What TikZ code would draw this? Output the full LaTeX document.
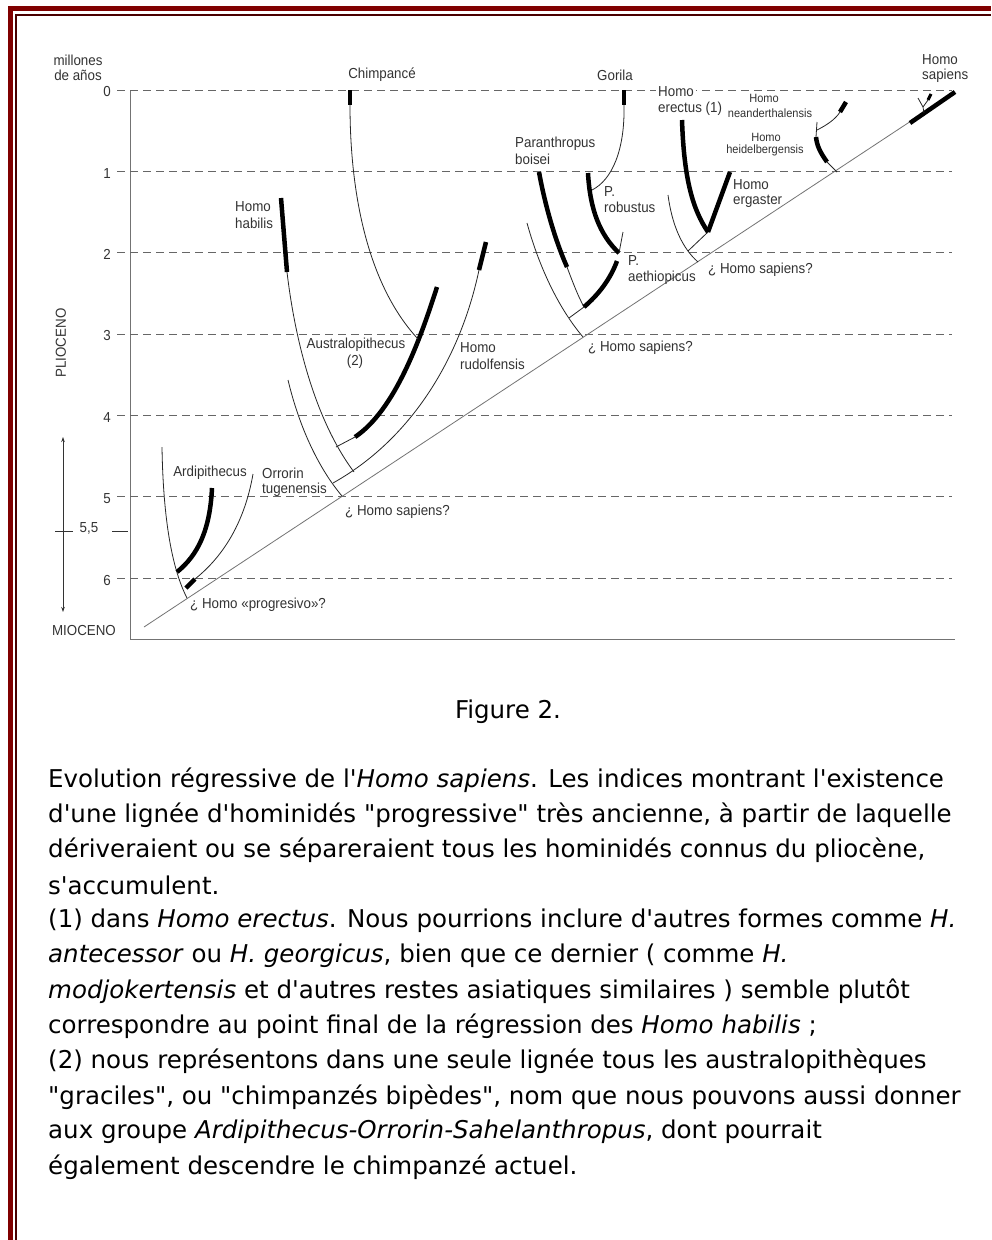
\documentclass[tikz,border=0pt]{standalone}
\usepackage{fontspec}
\setmainfont{DejaVu Sans}[Ligatures=TeXOff]
\newfontfamily\cond[FakeStretch=0.92]{Liberation Sans}
\usetikzlibrary{arrows.meta}
\definecolor{bordred}{HTML}{800000}
\definecolor{borddark}{HTML}{4A0000}
\begin{document}
\begin{tikzpicture}[x=1pt,y=-1pt,
  thinl/.style={line width=0.8pt, draw=black!85},
  thickl/.style={line width=4.5pt, draw=black},
  dashl/.style={line width=0.9pt, draw=black!60, dash pattern=on 8pt off 5pt},
  axisl/.style={line width=1pt, draw=black!55},
  diagl/.style={line width=0.8pt, draw=black!55},
  lbl/.style={font=\cond\fontsize{14.5}{15}\selectfont, text=black!80, inner sep=0pt},
  slbl/.style={font=\cond\fontsize{12}{13}\selectfont, text=black!80, inner sep=0pt},
  captxt/.style={font=\fontsize{24.5}{28}\selectfont, anchor=west, inner sep=0pt}]
\useasboundingbox (0,0) rectangle (991,1240);
\fill[white] (0,0) rectangle (991,1240);
% border
\fill[bordred] (8,6) rectangle (991,11);
\fill[bordred] (8,6) rectangle (13,1240);
\fill[borddark] (15,14) rectangle (991,16);
\fill[borddark] (15,14) rectangle (17,1240);
% axes
\coordinate (ax0) at (130,90);
\coordinate (ax1) at (130,639);
\coordinate (ax2) at (955,639);
\draw[axisl] (ax0) -- (ax1) -- (ax2);
\foreach \i/\y in {0/90,1/171.3,2/252.7,3/334,4/415.3,5/496.7,6/578}{
  \coordinate (gl\i) at (117,\y);
  \coordinate (gr\i) at (952,\y);
  \draw[dashl] (gl\i) -- (gr\i);
  \node[lbl] (n\i) at (107,\y+2) {\i};
}
\node[lbl] (mill) at (78,60) {millones};
\node[lbl] (anos) at (78,75) {de años};
\node[lbl, rotate=90] (plio) at (61,343) {PLIOCENO};
\node[lbl] (mioc) at (84,630) {MIOCENO};
\coordinate (ar0) at (63,437);
\coordinate (ar1) at (63,612);
\draw[line width=0.8pt, black!80, {Stealth[length=5pt,width=3.5pt]}-{Stealth[length=5pt,width=3.5pt]}] (ar0) -- (ar1);
\coordinate (t1a) at (55,531); \coordinate (t1b) at (73,531);
\coordinate (t2a) at (112,531); \coordinate (t2b) at (128,531);
\draw[line width=0.8pt, black!80] (t1a) -- (t1b);
\draw[line width=0.8pt, black!80] (t2a) -- (t2b);
\node[lbl] (f55) at (89,528) {5,5};
% diagonal
\coordinate (d0) at (144,627);
\coordinate (d1) at (955,92);
\draw[diagl] (d0) -- (d1);
% ---- Ardipithecus group
\coordinate (a1) at (162,447); \coordinate (a2) at (187,598);
\draw[thinl] (a1) .. controls (163,510) and (170,565) .. (a2);
\coordinate (ar1t) at (212,488); \coordinate (ar1b) at (177,572);
\draw[thickl] (ar1t) .. controls (210,530) and (198,555) .. (ar1b);
\coordinate (or1) at (253,474); \coordinate (or2) at (195,579); \coordinate (or3) at (186,588);
\draw[thinl] (or1) .. controls (245,520) and (225,555) .. (or2);
\draw[thickl] (or2) -- (or3);
% ---- middle group
\coordinate (m1) at (288,380); \coordinate (m2) at (342,496);
\draw[thinl] (m1) .. controls (300,430) and (320,470) .. (m2);
\coordinate (ru1) at (486,242); \coordinate (ru2) at (479,270); \coordinate (ru3) at (333,483);
\draw[thickl] (ru1) -- (ru2);
\draw[thinl] (ru2) .. controls (460,360) and (410,440) .. (ru3);
\coordinate (hh1) at (281,198); \coordinate (hh2) at (287,272); \coordinate (hh3) at (354,472);
\draw[thickl] (hh1) -- (hh2);
\draw[thinl] (hh2) .. controls (295,340) and (315,420) .. (hh3);
\coordinate (au1) at (437,287); \coordinate (au2) at (355,437); \coordinate (au3) at (336,447);
\draw[thickl] (au1) .. controls (420,340) and (395,410) .. (au2);
\draw[thinl] (au2) -- (au3);
\coordinate (ch1) at (350,90); \coordinate (ch2) at (350,105); \coordinate (ch3) at (418,339);
\draw[thickl] (ch1) -- (ch2);
\draw[thinl] (ch2) .. controls (350,195) and (368,285) .. (ch3);
% ---- Paranthropus group
\coordinate (p1) at (527,223); \coordinate (p2) at (583,337);
\draw[thinl] (p1) .. controls (540,270) and (560,310) .. (p2);
\coordinate (bo1) at (539,172); \coordinate (bo2) at (567,267); \coordinate (bo3) at (584,307);
\draw[thickl] (bo1) .. controls (545,205) and (555,240) .. (bo2);
\draw[thinl] (bo2) .. controls (573,283) and (578,296) .. (bo3);
\coordinate (ae1) at (617,261); \coordinate (pc) at (569,318);
\draw[thickl] (ae1) .. controls (610,280) and (598,295) .. (bo3);
\draw[thinl] (bo3) -- (pc);
\coordinate (ro1) at (588,173); \coordinate (ro2) at (619,253); \coordinate (ro3) at (623,232);
\draw[thickl] (ro1) .. controls (590,210) and (600,235) .. (ro2);
\draw[thinl] (ro2) -- (ro3);
\coordinate (go1) at (624,90); \coordinate (go2) at (624,105); \coordinate (go3) at (592,190);
\draw[thickl] (go1) -- (go2);
\draw[thinl] (go2) .. controls (625,150) and (612,180) .. (go3);
% ---- erectus group
\coordinate (e1) at (668,195); \coordinate (e2) at (698,262);
\draw[thinl] (e1) .. controls (672,225) and (682,248) .. (e2);
\coordinate (er1) at (682,120); \coordinate (er2) at (708,232);
\draw[thickl] (er1) .. controls (684,180) and (693,210) .. (er2);
\coordinate (eg1) at (730,172);
\draw[thickl] (eg1) -- (er2);
\coordinate (ec) at (688,251);
\draw[thinl] (er2) -- (ec);
% ---- heidelbergensis / neanderthal
\coordinate (hd0) at (837,172); \coordinate (hd1) at (827,162); \coordinate (hd2) at (816,137); \coordinate (hd3) at (817,122);
\draw[thinl] (hd0) -- (hd1);
\draw[thickl] (hd1) .. controls (820,152) and (817,146) .. (hd2);
\draw[thinl] (hd2) -- (hd3);
\coordinate (ne0) at (817,130); \coordinate (ne1) at (840,112); \coordinate (ne2) at (846,102);
\draw[thinl] (ne0) .. controls (825,126) and (835,120) .. (ne1);
\draw[thickl] (ne1) -- (ne2);
% ---- Homo sapiens
\coordinate (hs0) at (910,123);
\draw[thickl] (hs0) -- (d1);
\coordinate (hs1) at (924,113); \coordinate (hs2) at (923,107); \coordinate (hs3) at (918,98);
\coordinate (hs4) at (928,100); \coordinate (hs5) at (931,94);
\draw[thinl] (hs1) -- (hs2) -- (hs3);
\draw[thinl] (hs2) -- (hs4);
\draw[line width=3pt] (hs4) -- (hs5);
% ---- labels
\node[lbl] (lch) at (382,75) {Chimpancé};
\node[lbl] (lgo) at (615,75) {Gorila};
\node[lbl, anchor=west, fill=white, inner xsep=2pt] (lhe1) at (656,92) {Homo};
\node[lbl, anchor=west] (lhe2) at (658,108.5) {erectus (1)};
\node[slbl] (lne1) at (764,98) {Homo};
\node[slbl] (lne2) at (770,113) {neanderthalensis};
\node[slbl] (lhd1) at (766,137) {Homo};
\node[slbl] (lhd2) at (765,150) {heidelbergensis};
\node[lbl, anchor=west] (lhs1) at (922,60) {Homo};
\node[lbl, anchor=west] (lhs2) at (922,76) {sapiens};
\node[lbl, anchor=west] (leg1) at (733,185) {Homo};
\node[lbl, anchor=west] (leg2) at (733,201) {ergaster};
\node[lbl, anchor=west] (lq3) at (708,270) {¿ Homo sapiens?};
\node[lbl, anchor=west] (lpb1) at (515,144) {Paranthropus};
\node[lbl, anchor=west] (lpb2) at (515,159.5) {boisei};
\node[lbl, anchor=west] (lpr1) at (604,192) {P.};
\node[lbl, anchor=west] (lpr2) at (604,207) {robustus};
\node[lbl, anchor=west] (lpa1) at (628,261) {P.};
\node[lbl, anchor=west] (lpa2) at (628,278) {aethiopicus};
\node[lbl, anchor=west] (lq2) at (588,348) {¿ Homo sapiens?};
\node[lbl, anchor=west] (lhh1) at (235,207) {Homo};
\node[lbl, anchor=west] (lhh2) at (235,223) {habilis};
\node[lbl] (lau1) at (356,345) {Australopithecus};
\node[lbl] (lau2) at (355,362) {(2)};
\node[lbl, anchor=west] (lru1) at (460,348) {Homo};
\node[lbl, anchor=west] (lru2) at (460,364) {rudolfensis};
\node[lbl, anchor=west] (lq1) at (345,512) {¿ Homo sapiens?};
\node[lbl] (lard) at (210,473) {Ardipithecus};
\node[lbl, anchor=west] (lor1) at (262,473) {Orrorin};
\node[lbl, anchor=west] (lor2) at (262,490) {tugenensis};
\node[lbl, anchor=west] (lq0) at (190,605) {¿ Homo «progresivo»?};
% ---- caption
\node[font=\fontsize{24.5}{28}\selectfont, inner sep=0pt] (fig) at (508,712) {Figure 2.};
\node[captxt] (c1) at (48,780) {Evolution régressive de l'\textit{Homo sapiens}. Les indices montrant l'existence};
\node[captxt] (c2) at (48,815.2) {d'une lignée d'hominidés "progressive" très ancienne, à partir de laquelle};
\node[captxt] (c3) at (48,850.4) {dériveraient ou se sépareraient tous les hominidés connus du pliocène,};
\node[captxt] (c4) at (48,885.6) {s'accumulent.};
\node[captxt] (c5) at (48,920.8) {(1) dans \textit{Homo erectus}. Nous pourrions inclure d'autres formes comme \textit{H.}};
\node[captxt] (c6) at (48,956) {\textit{antecessor} ou \textit{H. georgicus}, bien que ce dernier ( comme \textit{H.}};
\node[captxt] (c7) at (48,991.2) {\textit{modjokertensis} et d'autres restes asiatiques similaires ) semble plutôt};
\node[captxt] (c8) at (48,1026.4) {correspondre au point final de la régression des \textit{Homo habilis} ;};
\node[captxt] (c9) at (48,1061.6) {(2) nous représentons dans une seule lignée tous les australopithèques};
\node[captxt] (c10) at (48,1096.8) {"graciles", ou "chimpanzés bipèdes", nom que nous pouvons aussi donner};
\node[captxt] (c11) at (48,1132) {aux groupe \textit{Ardipithecus-Orrorin-Sahelanthropus}, dont pourrait};
\node[captxt] (c12) at (48,1167.2) {également descendre le chimpanzé actuel.};
\end{tikzpicture}
\end{document}
